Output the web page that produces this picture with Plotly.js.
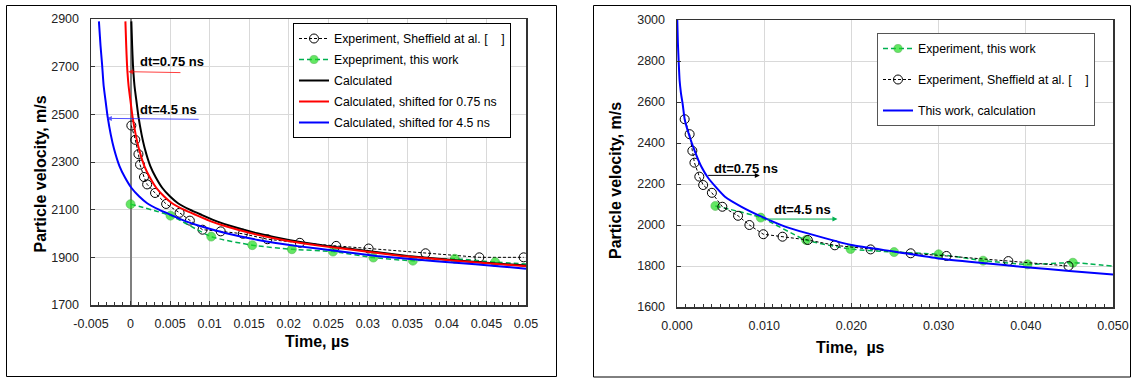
<!DOCTYPE html>
<html>
<head>
<meta charset="utf-8">
<script src="https://cdn.plot.ly/plotly-3.0.1.min.js"></script>
<style>html,body{margin:0;padding:0;background:#fff;}#chart{width:1133px;height:380px;}</style>
</head>
<body>
<div id="chart"></div>
<script>
// ---------- Left chart data ----------
const shefL_t = [0.0001, 0.0006, 0.001, 0.0012, 0.0017, 0.0021, 0.0031, 0.0045, 0.0062, 0.0075, 0.0091, 0.0114, 0.0142, 0.0173, 0.0214, 0.026, 0.0301, 0.0373, 0.0441, 0.0497];
const shefL_v = [2453, 2393, 2333, 2289, 2237, 2206, 2170, 2124, 2087, 2054, 2016, 2009, 1999, 1976, 1961, 1948, 1937, 1917, 1900, 1900];
const greenL_t = [0, 0.00505, 0.0102, 0.0154, 0.0204, 0.0256, 0.0307, 0.0357, 0.041, 0.0461];
const greenL_v = [2123, 2075, 1987, 1951, 1934, 1924, 1899, 1886, 1894, 1880];
const greenL_endT = 0.05, greenL_endV = 1872;
const calcL_t  = [0.0001, 0.0002, 0.0003, 0.0005, 0.0007, 0.001, 0.0014, 0.0018, 0.0025, 0.0032, 0.004, 0.005, 0.006, 0.0075, 0.009, 0.011, 0.013, 0.016, 0.02, 0.025, 0.03, 0.035, 0.04, 0.045, 0.05];
const calcL_v  = [2890, 2790, 2710, 2620, 2567, 2490, 2415, 2357, 2283, 2235, 2192, 2155, 2127, 2100, 2078, 2050, 2028, 2001, 1973, 1947, 1927, 1906, 1891, 1877, 1866];
const shift075_t = [-0.00065, -0.00055, -0.00045, -0.00025, -0.00005, 0.00025, 0.00065, 0.00105, 0.00175, 0.00245, 0.00325, 0.00425, 0.00525, 0.00675, 0.00825, 0.01025, 0.01225, 0.01525, 0.01925, 0.02425, 0.02925, 0.03425, 0.03925, 0.04425, 0.05];
const shift075_v = [2890, 2790, 2710, 2620, 2567, 2490, 2415, 2357, 2283, 2235, 2192, 2155, 2127, 2100, 2078, 2050, 2028, 2001, 1973, 1947, 1927, 1906, 1891, 1877, 1863];
const shift45_t = [-0.004, -0.0038, -0.0036, -0.0034, -0.0032, -0.0029, -0.0025, -0.0021, -0.0014, -0.0007, 0.0001, 0.0011, 0.0021, 0.0036, 0.0051, 0.0071, 0.0091, 0.0121, 0.0161, 0.0211, 0.0261, 0.0311, 0.0361, 0.0411, 0.0461, 0.05];
const shift45_v = [2890, 2790, 2710, 2620, 2567, 2490, 2415, 2357, 2283, 2235, 2192, 2155, 2127, 2100, 2078, 2050, 2028, 2001, 1973, 1947, 1927, 1906, 1891, 1877, 1864, 1852];
const leftXTicks = [-0.005, 0, 0.005, 0.01, 0.015, 0.02, 0.025, 0.03, 0.035, 0.04, 0.045, 0.05];
const leftXTickText = ['-0.005', '0', '0.005', '0.01', '0.015', '0.02', '0.025', '0.03', '0.035', '0.04', '0.045', '0.05'];

// ---------- Right chart data ----------
const greenR_t = [0.0044, 0.0096, 0.0148, 0.0199, 0.0249, 0.030, 0.0351, 0.0402, 0.0454];
const greenR_v = [2093, 2036, 1927, 1883, 1868, 1857, 1826, 1808, 1816];
const greenR_endT = 0.05, greenR_endV = 1799;
const shefR_t = [0.00088, 0.00145, 0.00176, 0.002, 0.00256, 0.003, 0.004, 0.0052, 0.007, 0.0083, 0.0099, 0.0121, 0.015, 0.0181, 0.0222, 0.0268, 0.0309, 0.038, 0.0449];
const shefR_v = [2516, 2443, 2362, 2304, 2236, 2195, 2157, 2089, 2045, 2000, 1955, 1943, 1927, 1901, 1881, 1862, 1849, 1824, 1800];
const calcR_t = [0.00003, 0.0001, 0.0002, 0.0003, 0.00045, 0.00065, 0.00088, 0.00135, 0.00206, 0.0028, 0.0036, 0.0055, 0.0074, 0.0099, 0.0124, 0.015, 0.02, 0.025, 0.03, 0.035, 0.04, 0.045, 0.05];
const calcR_v = [3000, 2890, 2790, 2705, 2645, 2590, 2516, 2444, 2358, 2284, 2228, 2138, 2089, 2037, 1992, 1959, 1902, 1870, 1837, 1815, 1794, 1776, 1758];

const FONT = 'Liberation Sans, Arial, sans-serif';
const GREEN_LINE = '#00b050';
const GREEN_FILL = '#22dd22';

const traces = [
  // left chart
  {x: shefL_t, y: shefL_v, xaxis: 'x', yaxis: 'y', legend: 'legend', legendgroup: 'l1',
   name: 'Experiment, Sheffield at al. [\u00a0\u00a0\u00a0\u00a0]', mode: 'lines+markers',
   line: {color: '#000', width: 1, dash: '3px,2px'},
   marker: {symbol: 'circle-open', size: 9, color: '#000', line: {width: 1}}},
  {x: greenL_t.concat([greenL_endT]), y: greenL_v.concat([greenL_endV]), xaxis: 'x', yaxis: 'y', legend: 'legend', legendgroup: 'l2',
   name: 'Expepriment, this work', mode: 'lines+markers',
   line: {color: GREEN_LINE, width: 1.5, dash: '5px,3px', shape: 'spline', smoothing: 0.6},
   marker: {symbol: 'circle', size: greenL_t.map(() => 9).concat([0]), color: GREEN_FILL, line: {color: '#139a13', width: 0.6}}},
  {x: calcL_t, y: calcL_v, xaxis: 'x', yaxis: 'y', legend: 'legend', legendgroup: 'l3',
   name: 'Calculated', mode: 'lines', line: {color: '#000', width: 2, shape: 'spline', smoothing: 0.5}},
  {x: shift075_t, y: shift075_v, xaxis: 'x', yaxis: 'y', legend: 'legend', legendgroup: 'l4',
   name: 'Calculated, shifted for 0.75 ns', mode: 'lines', line: {color: '#ff0000', width: 2, shape: 'spline', smoothing: 0.5}},
  {x: shift45_t, y: shift45_v, xaxis: 'x', yaxis: 'y', legend: 'legend', legendgroup: 'l5',
   name: 'Calculated, shifted for 4.5 ns', mode: 'lines', line: {color: '#0000ff', width: 2, shape: 'spline', smoothing: 0.5}},
  // right chart
  {x: greenR_t.concat([greenR_endT]), y: greenR_v.concat([greenR_endV]), xaxis: 'x2', yaxis: 'y2', legend: 'legend2', legendgroup: 'r1',
   name: 'Experiment, this work', mode: 'lines+markers',
   line: {color: GREEN_LINE, width: 1.5, dash: '5px,3px', shape: 'spline', smoothing: 0.6},
   marker: {symbol: 'circle', size: greenR_t.map(() => 9).concat([0]), color: GREEN_FILL, line: {color: '#139a13', width: 0.6}}},
  {x: shefR_t, y: shefR_v, xaxis: 'x2', yaxis: 'y2', legend: 'legend2', legendgroup: 'r2',
   name: 'Experiment, Sheffield at al. [\u00a0\u00a0\u00a0\u00a0]', mode: 'lines+markers',
   line: {color: '#000', width: 1, dash: '3px,2px'},
   marker: {symbol: 'circle-open', size: 9, color: '#000', line: {width: 1}}},
  {x: calcR_t, y: calcR_v, xaxis: 'x2', yaxis: 'y2', legend: 'legend2', legendgroup: 'r3',
   name: 'This work, calculation', mode: 'lines', line: {color: '#0000ff', width: 2, shape: 'spline', smoothing: 0.5}}
];

const axisCommon = {
  showline: true, mirror: true, linecolor: '#333', linewidth: 1.5,
  showgrid: true, gridcolor: '#d9d9d9', gridwidth: 1,
  ticks: 'inside', ticklen: 4, tickcolor: '#333', tickwidth: 1,
  tickfont: {family: FONT, size: 12.5, color: '#222'},
  fixedrange: true
};

const W = 1133, H = 380;
const px = v => v / W, py = v => 1 - v / H;

const layout = {
  width: W, height: H,
  margin: {l: 0, r: 0, t: 0, b: 0},
  paper_bgcolor: '#fff', plot_bgcolor: '#fff',
  font: {family: FONT, color: '#000'},
  hovermode: false,
  xaxis: Object.assign({}, axisCommon, {
    domain: [px(91), px(526)], range: [-0.005, 0.05], anchor: 'y',
    tickmode: 'array', tickvals: leftXTicks, ticktext: leftXTickText,
    zeroline: true, zerolinecolor: '#7f7f7f', zerolinewidth: 2,
    ticklabelstandoff: 6,
    minor: {dtick: 0.001, tick0: 0, ticks: 'inside', ticklen: 3, tickcolor: '#333', showgrid: false}
  }),
  yaxis: Object.assign({}, axisCommon, {
    domain: [1 - 305 / H, 1 - 19 / H], range: [1700, 2900], tick0: 1700, dtick: 200, anchor: 'x',
    zeroline: false, ticklabelstandoff: 8
  }),
  xaxis2: Object.assign({}, axisCommon, {
    domain: [px(677), px(1113)], range: [0, 0.05], anchor: 'y2',
    dtick: 0.01, tickformat: '.3f', zeroline: false, ticklabelstandoff: 6,
    minor: {dtick: 0.001, tick0: 0, ticks: 'inside', ticklen: 3, tickcolor: '#333', showgrid: false}
  }),
  yaxis2: Object.assign({}, axisCommon, {
    domain: [1 - 307 / H, 1 - 20 / H], range: [1600, 3000], tick0: 1600, dtick: 200, anchor: 'x2',
    zeroline: false, ticklabelstandoff: 8
  }),
  legend: {
    x: px(293), y: py(23), xanchor: 'left', yanchor: 'top',
    bgcolor: '#fff', bordercolor: '#000', borderwidth: 1,
    font: {family: FONT, size: 12.3, color: '#000'},
    traceorder: 'grouped', tracegroupgap: 2, itemwidth: 30
  },
  legend2: {
    x: px(877), y: py(33), xanchor: 'left', yanchor: 'top',
    bgcolor: '#fff', bordercolor: '#555', borderwidth: 1,
    font: {family: FONT, size: 12.3, color: '#000'},
    traceorder: 'grouped', tracegroupgap: 12, itemwidth: 30
  },
  shapes: [
    {type: 'rect', xref: 'paper', yref: 'paper', x0: px(6.5), x1: px(556.5), y0: py(376.5), y1: py(5.5), line: {color: '#000', width: 1}},
    {type: 'rect', xref: 'paper', yref: 'paper', x0: px(593.5), x1: px(1130.5), y0: py(377), y1: py(5.5), line: {color: '#000', width: 1}}
  ],
  annotations: [
    // axis titles
    {xref: 'paper', yref: 'paper', x: px(283), y: py(352), text: '<b>Time, µs</b>', showarrow: false, font: {family: FONT, size: 16, color: '#000'}},
    {xref: 'paper', yref: 'paper', x: px(29), y: py(174), text: '<b>Particle velocity, m/s</b>', textangle: -90, showarrow: false, font: {family: FONT, size: 16, color: '#000'}},
    {xref: 'paper', yref: 'paper', x: px(887), y: py(358), text: '<b>Time,\u00a0 µs</b>', showarrow: false, font: {family: FONT, size: 16, color: '#000'}},
    {xref: 'paper', yref: 'paper', x: px(615), y: py(181), text: '<b>Particle velocity, m/s</b>', textangle: -90, showarrow: false, font: {family: FONT, size: 16, color: '#000'}},
    // left arrows + labels
    {xref: 'x', yref: 'y', axref: 'x', ayref: 'y', x: -0.0003, y: 2679, ax: 0.0065, ay: 2675, text: '', showarrow: true,
     arrowhead: 2, arrowsize: 1, arrowwidth: 1, arrowcolor: 'rgba(255,0,0,0.75)'},
    {xref: 'x', yref: 'y', axref: 'x', ayref: 'y', x: -0.003, y: 2483, ax: 0.0088, ay: 2479, text: '', showarrow: true,
     arrowhead: 2, arrowsize: 1, arrowwidth: 1, arrowcolor: 'rgba(40,40,255,0.8)'},
    {xref: 'x', yref: 'y', x: 0.00527, y: 2720, text: '<b>dt=0.75 ns</b>', showarrow: false, font: {family: FONT, size: 13, color: '#000'}},
    {xref: 'x', yref: 'y', x: 0.00485, y: 2522, text: '<b>dt=4.5 ns</b>', showarrow: false, font: {family: FONT, size: 13, color: '#000'}},
    // right arrows + labels
    {xref: 'x2', yref: 'y2', axref: 'x2', ayref: 'y2', x: 0.0095, y: 2242, ax: 0.0034, ay: 2242, text: '', showarrow: true,
     arrowhead: 2, arrowsize: 1, arrowwidth: 1, arrowcolor: '#000'},
    {xref: 'x2', yref: 'y2', axref: 'x2', ayref: 'y2', x: 0.0184, y: 2029, ax: 0.0102, ay: 2029, text: '', showarrow: true,
     arrowhead: 2, arrowsize: 1, arrowwidth: 1, arrowcolor: GREEN_LINE},
    {xref: 'x2', yref: 'y2', x: 0.0079, y: 2277, text: '<b>dt=0.75 ns</b>', showarrow: false, font: {family: FONT, size: 13, color: '#000'}},
    {xref: 'x2', yref: 'y2', x: 0.01443, y: 2078, text: '<b>dt=4.5 ns</b>', showarrow: false, font: {family: FONT, size: 13, color: '#000'}}
  ]
};

Plotly.newPlot('chart', traces, layout, {displayModeBar: false, staticPlot: true});
</script>
</body>
</html>
